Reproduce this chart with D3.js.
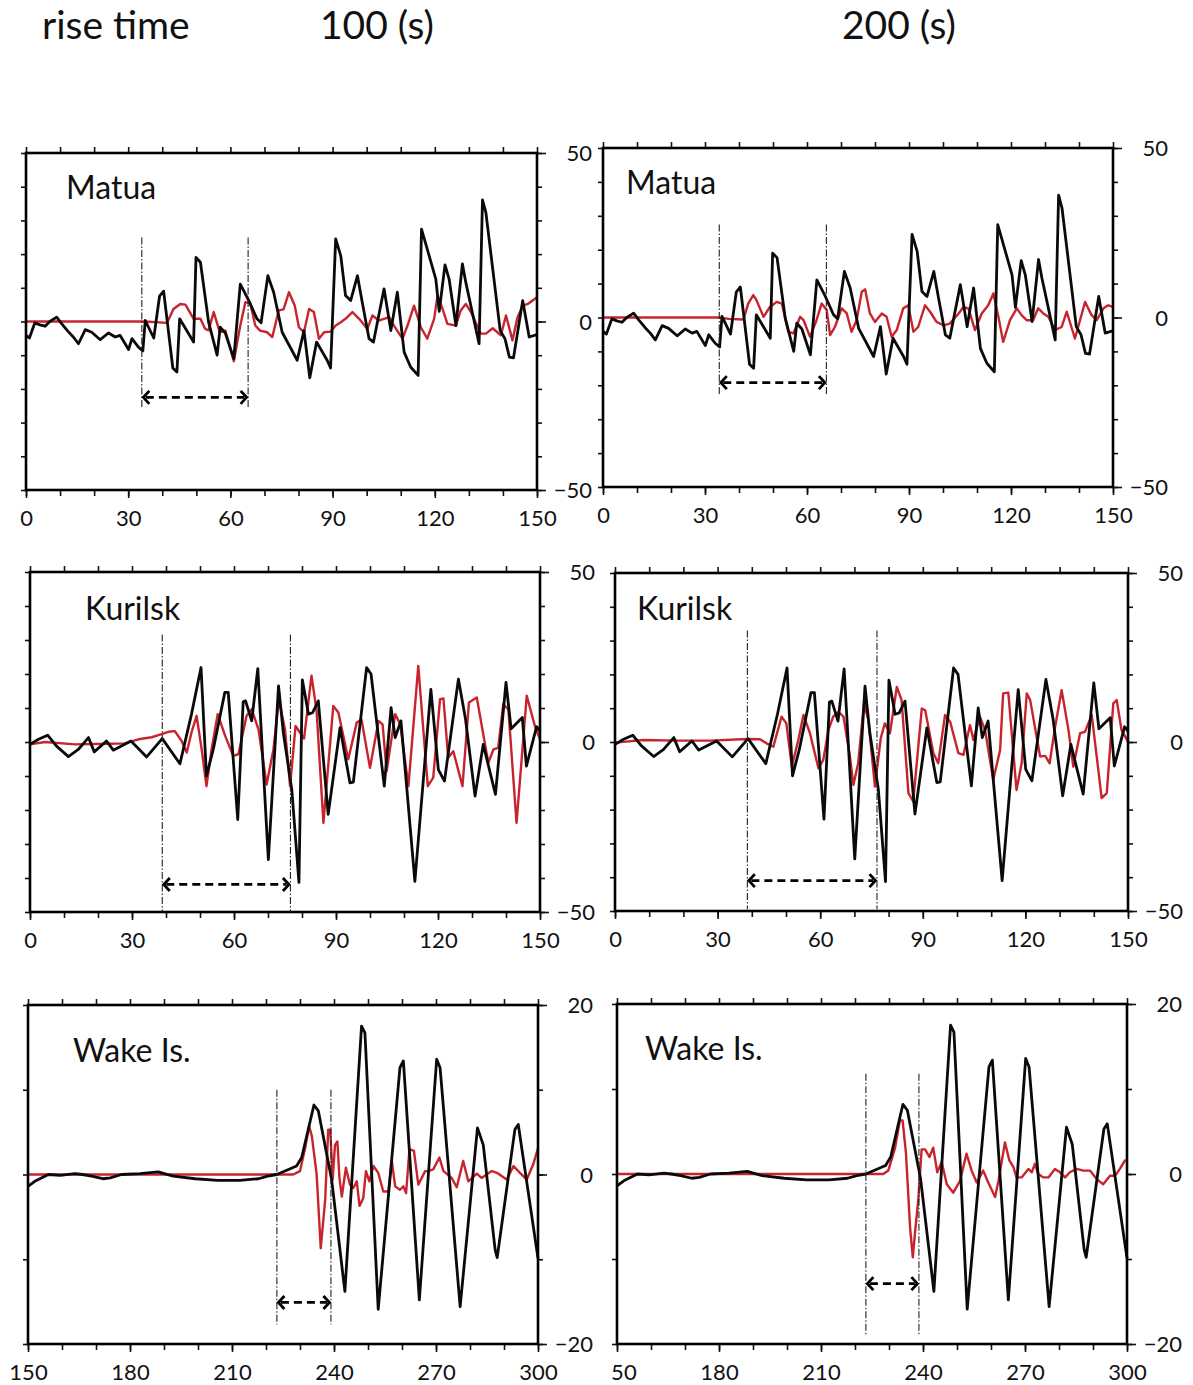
<!DOCTYPE html>
<html><head><meta charset="utf-8">
<script src="https://cdn.jsdelivr.net/npm/d3@7"></script>
<style>
html,body{margin:0;padding:0;background:#fff;}
svg{display:block;font-family:Lato,"Open Sans",sans-serif;}
</style></head>
<body>
<svg id="chart" width="1193" height="1385"></svg>
<script>
// ---------- data ----------
const headerLabels = ["rise time", "100 (s)", "200 (s)"];
const stations = ["Matua", "Kurilsk", "Wake Is."];
const riseTimes = ["100 (s)", "200 (s)"];
const xDomains = [[0,150],[0,150],[150,300]];
const yDomains = [[-50,50],[-50,50],[-20,20]];
const xTickLabels = [[0,30,60,90,120,150],[0,30,60,90,120,150],[150,180,210,240,270,300]];
const yTickLabels = [[-50,0,50],[-50,0,50],[-20,0,20]];

// observed (black) – [time, amplitude]
const obsMatua = [[0,-4.1],[1,-4.9],[2.6,-0.4],[4.1,-1],[5.6,-1.4],[7,0],[9,1.3],[10.5,-0.7],[12.4,-3],[13.9,-4.6],[15.4,-6.6],[17.4,-2.4],[19.3,-3.2],[21.8,-5.4],[24.2,-3.4],[26.2,-4.6],[27.6,-4.1],[30.1,-8.3],[31.1,-5.1],[33,-7.6],[34.3,-8.7],[35,0.3],[37.5,-4.9],[39.2,7.5],[40.4,9],[43.1,-13.8],[44.3,-15],[45.1,0.8],[49.2,-6.1],[49.9,19],[51.2,17.6],[53.6,-0.2],[56.1,-10],[57,-1.7],[58.5,-3.4],[61,-11],[62.9,11.1],[65.4,6.2],[67.8,0.8],[69,-0.4],[71,13.6],[72.7,8.7],[75.2,-3.2],[79.6,-11.5],[81.6,-2.7],[83.3,-16.7],[85.3,-6.1],[88.4,-11.5],[89.4,-13.8],[90.9,24.5],[92.4,19.5],[93.8,7.7],[95.3,6.2],[97.3,13.6],[98.7,5.7],[100.7,-5.1],[102,-6.1],[105.1,9.7],[107.1,-2.7],[109,8.7],[111,-9.1],[112.9,-13.5],[115.1,-16],[116.1,27.4],[120.3,12.6],[121.3,3],[123,16.8],[124.2,12.6],[126.2,-1.2],[128.1,17.1],[129.1,11.6],[133,-6.6],[134,36.1],[135,32.3],[139.2,-2.7],[140.6,-5.1],[141.9,-10.6],[143.1,-10.8],[145.8,6.2],[147.7,-4.6],[150,-3.9]];
const obsKurilsk = [[0,-0.7],[2.5,0.8],[5.2,2],[7.8,-1.2],[11.3,-4.3],[14.2,-2.2],[17.2,1.3],[18.9,-2.9],[22.5,0.3],[24.5,-2.4],[29.7,0.3],[34.3,-4.4],[38.9,1],[44.1,-6.4],[47.5,8.2],[50.3,21.9],[51.9,-10],[53.9,-2.2],[57.3,14.6],[58.3,14.6],[61.1,-22.8],[62.7,11.8],[63.4,12.1],[65.2,6.2],[67,21.6],[70.1,-34.6],[73.1,16.5],[74.5,2.8],[77,-14],[79.1,-41.3],[80.1,18.3],[81.9,8.2],[83.1,8.6],[84.8,12.1],[87.7,-21.3],[91.2,4.2],[94.1,-12],[95.1,-11.8],[99,21.9],[100.3,20],[104.2,-13],[106.2,10.1],[107.4,1.3],[109.1,6.2],[113.2,-41],[117.9,15.5],[120.1,-8.1],[121.9,-11.5],[126,18.5],[128.1,6.7],[130.9,-15.9],[133.3,-0.7],[136.9,-15.4],[140,17.5],[141.5,3.9],[144.8,7.2],[146,-7.1],[149,4.5],[150,3.2]];
const obsWake = [[150,-1.4],[152,-0.8],[156,0],[159.5,-0.1],[163.8,0.1],[166,0],[168.7,-0.2],[172,-0.5],[174.2,-0.4],[177.5,0],[182.9,0.1],[188.3,0.3],[192.7,-0.2],[199.2,-0.5],[205.8,-0.7],[212.3,-0.7],[217.8,-0.5],[220.5,-0.2],[223.2,0],[229,1],[230.5,2],[234.1,8.2],[235.4,7.5],[239.3,-0.6],[243.2,-13.8],[248.1,17.5],[249.1,16.7],[253,-15.9],[259.4,12.6],[260.4,13.4],[265.1,-14.8],[270.2,13.6],[271.2,12.6],[277.1,-15.6],[282.2,5.5],[283.9,3.5],[287.4,-8.9],[288,-9.8],[293.2,5.3],[294.2,5.9],[300,-9.9]];

// simulated (red) – rise time 100 s
const simMatua100 = [[0,0],[35,0],[41.4,-0.4],[43.3,3.7],[45.3,5.2],[46.8,5],[49.2,0.8],[51.2,0.8],[52.6,-2.2],[53.6,-2.6],[55.1,2.8],[56.9,-3.2],[58.5,-2.7],[61,-11.8],[62.9,-1.2],[64.4,5.7],[65.8,5.5],[67.3,-1.2],[68.7,-2.7],[70.8,-3.2],[72.3,-4.6],[74.2,3.3],[75.6,3.6],[77.2,8.7],[78.9,4.7],[80.1,-1.7],[81.6,-3.2],[83.1,3.7],[84.5,2.8],[86,-5.1],[87.5,-3.2],[89.4,-3],[90.9,-1.2],[92.4,-0.2],[93.8,0.8],[95.8,2.8],[97.8,0.8],[100.2,-2.2],[101.7,1.8],[103.6,0.3],[105.1,0.8],[106.6,1.3],[108,-1.2],[110.5,-5.1],[112,-1.2],[113.9,4.7],[115.9,-1.7],[117.8,-5.1],[119.8,0.8],[120.8,7.7],[122.3,3.7],[123.7,-0.7],[126.2,-1.2],[127.6,3.3],[129.1,5.2],[130.6,2.8],[133.5,-3.6],[135,-3.6],[137,-2],[139.4,-4.1],[140.9,1.8],[142.8,-5.6],[144.3,1.3],[145.8,4.7],[147.3,5.2],[150,7.2]];
const simKurilsk100 = [[0,-0.7],[4.4,0],[13.2,-0.7],[23,-0.5],[27.9,-0.4],[31.9,0.8],[35.8,1.4],[38.7,2.3],[40.7,3],[42.6,3.2],[44.6,0.3],[46.1,-3.1],[47.5,2.8],[49,7.7],[50.5,-2.2],[51.9,-13],[53.4,-2.2],[55.2,8.2],[57.4,1.8],[59.8,-4.1],[61.3,-3.6],[63.7,7.7],[65.2,9.6],[67.2,3.7],[69.6,-12.5],[71.6,-2.2],[73.2,12.6],[75,3.7],[76.5,-13],[78.1,4.7],[79.4,2.8],[80.6,1],[82.8,19.5],[84.3,9.1],[86.3,-23.8],[89.2,10.6],[90.7,8.7],[93.6,-5.1],[96.1,5.7],[97.5,6.6],[100,-7.6],[102.5,6.2],[103.7,5.2],[104.9,-8.6],[107.4,8.2],[108.9,5.2],[111.3,-13],[114.2,22.4],[117,-13],[118.6,-10.5],[120.6,12.6],[121.6,12.8],[123,-4.6],[124.5,-2.7],[127.2,-13],[129.1,11.6],[131.4,13.1],[134.8,-6.1],[136.3,-2.2],[137.7,-1.7],[139.2,11.1],[140.7,9.6],[143.1,-23.8],[146.1,13.6],[148.5,4.7],[150,0.8]];
const simWake100 = [[150,0],[228,0],[230,0.4],[231.5,3.1],[232.7,5.7],[233.5,4.5],[234.9,0],[236.1,-8.7],[237.4,-3],[238.3,5.3],[238.9,5.3],[239.6,-0.6],[240.3,3.5],[241,3.9],[241.6,-0.4],[242.3,-2.6],[243.5,0.8],[244.7,-1.2],[245.7,-1.6],[246.7,-0.8],[247.5,-3.7],[248.6,-2.8],[249.4,0.4],[250.4,-0.8],[251.6,1],[253,0.2],[254.5,-2],[256,-2],[257,1.6],[258,-1.4],[259.4,-1.8],[260.4,-1.4],[261.2,-2.2],[262.2,3],[263.5,2.8],[264.8,-1.2],[266.8,0.4],[267.7,0.4],[269.2,0.6],[271,2],[272.2,0.4],[274.6,-0.4],[276.1,-1.5],[278,1.6],[279.5,-0.8],[282,0.1],[283.4,-0.4],[284.9,0],[286.4,0.4],[287.9,0.2],[290.8,-0.6],[292.8,1],[294.7,0.2],[296.7,-0.6],[298.6,1.2],[300,3.1]];

// simulated (red) – rise time 200 s
const simMatua200 = [[0,0],[33.9,0],[37,-0.4],[41.3,-0.6],[42.7,4.1],[44.2,6.6],[45.1,5.2],[47.2,0.2],[49.1,3.1],[51.1,4.6],[52.6,4.1],[54.5,-4.2],[56,-4.7],[58,0.2],[59,-0.8],[60.9,-5.7],[62.8,-0.8],[64.3,4.1],[65.8,2.2],[66.8,-5.2],[68.2,-2.8],[70.2,2.7],[71.7,1.2],[73.1,-4.2],[74.6,-0.8],[76.1,7.6],[77.1,8.3],[78.5,1.2],[80,-1.3],[82,1.2],[83.4,0.2],[84.9,-5.7],[86.4,-3.7],[88.3,2.7],[89.8,3.6],[91.3,-4.2],[92.7,-2.8],[94.7,3.6],[96.2,1.7],[98.1,-1.3],[100.1,-2.3],[102,-1.8],[104.6,1.2],[106,3.1],[107.5,2.6],[109.4,-3.7],[111.4,1.2],[113.3,3.6],[114.8,7.1],[116.3,0.2],[117.7,-7.2],[119.7,-0.8],[121.7,2.7],[123.1,0.7],[124.6,-0.8],[126.5,-0.8],[128,2.7],[129.5,1.2],[131,0.2],[132.9,-3.7],[134.9,-2.8],[136.4,1.7],[138.8,-6.2],[140.3,-0.8],[141.8,4.6],[143.7,0.7],[145.2,-0.8],[147.2,2.7],[148.6,3.6],[150,3.1]];
const simKurilsk200 = [[0,-0.2],[8.3,0.6],[18,0.4],[28,0.4],[38.5,0.9],[42.4,0.8],[44.3,-0.4],[46.3,-1.4],[48.7,7.5],[50.1,5.5],[51.7,-7.3],[53.6,0.6],[55.1,8],[57,2.6],[59.5,-7.8],[60.9,-5.3],[62.4,3.5],[63.8,7.5],[65.3,8.9],[66.8,7.5],[68.7,-4.3],[69.7,-12.7],[71.1,-6.3],[72.8,11.4],[74.1,6.5],[76,-13.2],[77.7,1.1],[78.9,5.5],[80.4,2.6],[82.4,16.3],[83.8,12.4],[85.8,-15.1],[87.2,-17.6],[89.7,9.9],[90.7,9.4],[93.1,-3.3],[94.5,-6.3],[96.5,8],[98,6],[100.4,-3.3],[101.9,-3.8],[103.8,5],[104.8,0.6],[106.7,7.5],[108.2,3.5],[110.6,-11.2],[112.6,-2.4],[113.5,14.4],[115,14.6],[117.4,-14.2],[118.9,-6.3],[120.4,14.4],[121.4,12.4],[124.3,-4.3],[125.8,-4.1],[127.1,-6.3],[128.6,4],[130.6,15.3],[132.6,3.5],[134,-7.3],[136,2.6],[137.4,3],[139.4,8],[142.3,-16.6],[143.8,-15.1],[145.7,11.4],[146.7,12.4],[148.1,3.5],[150,0.1]];
const simWake200 = [[150,0],[228.3,0],[229.8,0.4],[231.8,3.1],[233.2,6.3],[234,6.3],[235,2.4],[236.2,-6.3],[237,-9.8],[237.6,-7.1],[238.6,-3.1],[239.6,2.9],[240.6,2.9],[241.9,2],[243,3.1],[244.2,0.2],[245.5,1.4],[247,-1.2],[248.9,-2.2],[250.9,-0.8],[252.8,2.4],[254.3,0.4],[255.8,-1],[257.7,0.4],[259.2,-1],[261.2,-2.7],[262.2,-0.8],[264.1,3.7],[265.4,1.6],[266.6,0.8],[267.5,-0.4],[269,-0.4],[271,0.6],[272,0.2],[272.9,1.2],[273.9,0],[275.4,-0.4],[276.9,-0.4],[278.8,0.6],[280.3,0.2],[281.8,-0.4],[283.2,0.2],[285.2,0.6],[287.2,0.4],[289.1,0.4],[291.1,-0.6],[293,-1.2],[295,-0.2],[296.5,-0.2],[297.9,0.6],[299.4,1.6],[300,1.6]];

// rise-time markers: [start, end] times, vertical extent [top, bottom], arrow level
const riseStart = [34, 34.2, 38.9, 38.7, 223.2, 223.2];
const riseEnd   = [65.2, 65.7, 76.6, 76.6, 239.1, 238.8];
const riseTop   = [24.9, 27.4, 31.6, 33, 10, 11.8];
const riseBottom= [-26, -22.7, -50, -49.5, -17.7, -18.9];
const arrowLevel= [-22.5, -19.2, -41.9, -41, -15.1, -12.9];

const observed = [obsMatua, obsKurilsk, obsWake];
const simulated = [[simMatua100, simMatua200],[simKurilsk100, simKurilsk200],[simWake100, simWake200]];

// ---------- layout ----------
const frames = [
  {x0:26, x1:537, y0:153, y1:490, lx:40, ly:46},
  {x0:603,x1:1113,y0:148, y1:487, lx:23, ly:46},
  {x0:30, x1:540, y0:572, y1:912, lx:55, ly:48},
  {x0:615,x1:1128,y0:573, y1:911, lx:22, ly:47},
  {x0:28, x1:538, y0:1005,y1:1344,lx:45, ly:57},
  {x0:617,x1:1127,y0:1004,y1:1344,lx:28, ly:56}
];
const RED = "#c8242e";
const svg = d3.select("#chart");

// header
const headerX = [42, 320, 842];
svg.selectAll("text.header").data(headerLabels).join("text")
  .attr("class","header")
  .attr("x",(d,i)=>headerX[i]).attr("y",39)
  .attr("font-size",39).attr("fill","#111").text(d=>d);

svg.append("defs").append("clipPath").attr("id","clipBR")
  .attr("clipPathUnits","userSpaceOnUse")
  .append("rect").attr("x",610).attr("y",-50).attr("width",600).attr("height",200);

const fmt = v => (v < 0 ? "\u2212" + Math.abs(v) : String(v));

for (let row = 0; row < 3; row++) {
  for (let col = 0; col < 2; col++) {
    const idx = row*2 + col;
    const f = frames[idx];
    const x = d3.scaleLinear().domain(xDomains[row]).range([f.x0, f.x1]);
    const y = d3.scaleLinear().domain(yDomains[row]).range([f.y1, f.y0]);
    const g = svg.append("g");

    const minorX = d3.range(xDomains[row][0], xDomains[row][1] + 0.1, 10);
    const minorY = d3.range(yDomains[row][0], yDomains[row][1] + 0.1, 10);

    const styleAxis = sel => {
      sel.select(".domain").remove();
      sel.selectAll(".tick line").attr("stroke","#111").attr("stroke-width",1.6);
      sel.selectAll("text").attr("font-family","Lato, sans-serif").attr("font-size",22).attr("fill","#111");
    };

    // top ticks
    g.append("g").attr("transform",`translate(0,${f.y0})`)
      .call(d3.axisTop(x).tickValues(minorX).tickSize(6).tickFormat(""))
      .call(styleAxis);
    // bottom minor ticks
    g.append("g").attr("transform",`translate(0,${f.y1})`)
      .call(d3.axisBottom(x).tickValues(minorX).tickSize(6).tickFormat(""))
      .call(styleAxis);
    // bottom labels
    const bottomLab = g.append("g").attr("transform",`translate(0,${f.y1})`)
      .call(d3.axisBottom(x).tickValues(xTickLabels[row]).tickSize(8).tickPadding(12).tickFormat(fmt))
      .call(styleAxis);
    if (idx === 5) bottomLab.attr("clip-path","url(#clipBR)");
    // left ticks
    g.append("g").attr("transform",`translate(${f.x0},0)`)
      .call(d3.axisLeft(y).tickValues(minorY).tickSize(5).tickFormat(""))
      .call(styleAxis);
    // right minor ticks
    g.append("g").attr("transform",`translate(${f.x1},0)`)
      .call(d3.axisRight(y).tickValues(minorY).tickSize(5).tickFormat(""))
      .call(styleAxis);
    // right major ticks + labels
    const rightLab = g.append("g").attr("transform",`translate(${f.x1},0)`)
      .call(d3.axisRight(y).tickValues(yTickLabels[row]).tickSize(9).tickFormat(fmt))
      .call(styleAxis);
    rightLab.selectAll("text").attr("text-anchor","end").attr("x",55).attr("dy","0.36em");

    // data lines
    const line = d3.line().x(d=>x(d[0])).y(d=>y(d[1]));
    g.append("path").datum(simulated[row][col])
      .attr("d",line).attr("fill","none").attr("stroke",RED)
      .attr("stroke-width",2.4).attr("stroke-linejoin","round");
    g.append("path").datum(observed[row])
      .attr("d",line).attr("fill","none").attr("stroke","#0a0a0a")
      .attr("stroke-width",2.8).attr("stroke-linejoin","round");

    // rise markers
    [riseStart[idx], riseEnd[idx]].forEach(t => {
      g.append("line")
        .attr("x1",x(t)).attr("x2",x(t))
        .attr("y1",y(riseTop[idx])).attr("y2",y(riseBottom[idx]))
        .attr("stroke","#222").attr("stroke-width",1.1)
        .attr("stroke-dasharray","7,2,1.5,2");
    });
    const ax0 = x(riseStart[idx]), ax1 = x(riseEnd[idx]), ay = y(arrowLevel[idx]);
    g.append("line").attr("x1",ax0+4).attr("x2",ax1-4).attr("y1",ay).attr("y2",ay)
      .attr("stroke","#000").attr("stroke-width",2.8).attr("stroke-dasharray","8,5");
    const h = 6.5;
    g.append("path")
      .attr("d",`M${ax0+h+1},${ay-h}L${ax0+1.5},${ay}L${ax0+h+1},${ay+h}`)
      .attr("fill","none").attr("stroke","#000").attr("stroke-width",2.8);
    g.append("path")
      .attr("d",`M${ax1-h-1},${ay-h}L${ax1-1.5},${ay}L${ax1-h-1},${ay+h}`)
      .attr("fill","none").attr("stroke","#000").attr("stroke-width",2.8);

    // frame
    g.append("rect").attr("x",f.x0).attr("y",f.y0)
      .attr("width",f.x1-f.x0).attr("height",f.y1-f.y0)
      .attr("fill","none").attr("stroke","#000").attr("stroke-width",2.6);

    // station label
    g.append("text").attr("x",f.x0+f.lx).attr("y",f.y0+f.ly)
      .attr("font-size",32).attr("fill","#111").text(stations[row]);
  }
}
</script>
</body></html>
